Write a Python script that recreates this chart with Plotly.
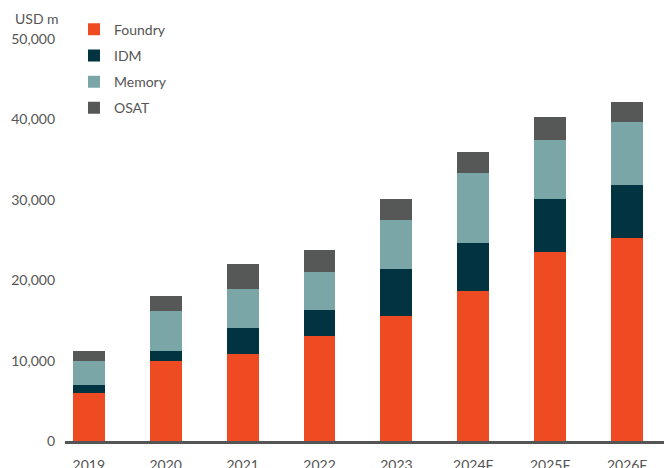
import plotly.graph_objects as go

years = ["2019", "2020", "2021", "2022", "2023", "2024F", "2025F", "2026F"]
foundry = [6000, 10000, 10800, 13100, 15600, 18700, 23500, 25200]
idm = [1000, 1200, 3250, 3200, 5800, 5900, 6550, 6650]
memory = [3000, 5000, 4900, 4680, 6050, 8700, 7450, 7850]
osat = [1200, 1800, 3100, 2820, 2650, 2700, 2750, 2500]

series = [
    ("Foundry", foundry, "#EE4B22"),
    ("IDM", idm, "#013340"),
    ("Memory", memory, "#7BA6A8"),
    ("OSAT", osat, "#565857"),
]

font_family = "Lato, 'Open Sans', sans-serif"
text_color = "#555555"

fig = go.Figure()
for i, (name, vals, color) in enumerate(series):
    fig.add_trace(go.Bar(
        x=list(range(len(years))), y=vals, name=name,
        marker=dict(color=color, line=dict(width=0)),
        width=0.415, legendgroup=name,
    ))

fig.update_layout(
    barmode="stack",
    width=664, height=468,
    margin=dict(l=65, r=0, t=39, b=27, autoexpand=False),
    paper_bgcolor="white", plot_bgcolor="white",
    font=dict(family=font_family, size=14, color=text_color),
    showlegend=True,
    legend=dict(
        x=0.015, y=1.063, xanchor="left", yanchor="top",
        traceorder="grouped", tracegroupgap=5,
        font=dict(size=14, color=text_color),
        bgcolor="rgba(0,0,0,0)",
    ),
    xaxis=dict(
        tickmode="array", tickvals=list(range(len(years))), ticktext=years,
        range=[-0.31, 7.48], automargin=False,
        showgrid=False, zeroline=False,
        showline=True, linecolor="#555555", linewidth=2.5,
        ticks="", ticklabelstandoff=9,
        tickfont=dict(size=14, color=text_color),
    ),
    yaxis=dict(
        range=[0, 50000], tickvals=[0, 10000, 20000, 30000, 40000, 50000],
        tickformat=",d", showgrid=False, zeroline=False, showline=False,
        ticks="", ticklabelstandoff=9, automargin=False,
        tickfont=dict(size=14, color=text_color),
    ),
    annotations=[dict(
        text="USD m", xref="paper", yref="paper", x=-0.087, y=1.0,
        xanchor="left", yanchor="bottom", yshift=10, showarrow=False,
        font=dict(size=14, color=text_color),
    )],
)

fig.write_html(
    "out.html",
    config={"displayModeBar": False},
    post_script="document.body.style.margin='0';document.body.style.padding='0';",
)
